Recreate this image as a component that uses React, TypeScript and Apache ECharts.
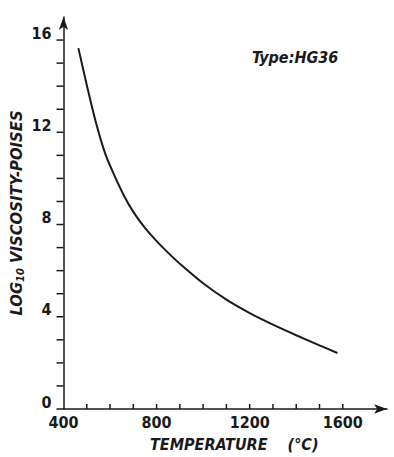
import React, { useEffect, useRef } from "react";
import * as echarts from "echarts";

const temperatures = [464, 500, 540, 580, 620, 660, 700, 750, 800, 850, 900, 1000, 1100, 1200, 1300, 1400, 1500, 1577];
const logViscosity = [15.65, 14.05, 12.4, 11.05, 10.1, 9.25, 8.55, 7.85, 7.28, 6.77, 6.3, 5.45, 4.74, 4.16, 3.66, 3.2, 2.76, 2.43];
const xTickValues = [500, 600, 700, 800, 900, 1000, 1100, 1200, 1300, 1400, 1500, 1600];
const xLabelValues = [400, 800, 1200, 1600];
const yTickValues = [0, 1, 2, 3, 4, 5, 6, 7, 8, 9, 10, 11, 12, 13, 14, 15, 16];
const yLabelValues = [0, 4, 8, 12, 16];

const FONT = "'DejaVu Sans Condensed', 'Liberation Sans Narrow', 'DejaVu Sans', sans-serif";
const INK = "#1a1a1a";
const X_MIN = 400;
const Y_MIN = 0;

export default function App() {
  const ref = useRef<HTMLDivElement>(null);
  useEffect(() => {
    if (!ref.current) return;
    const chart = echarts.init(ref.current, null, { renderer: "svg" });
    const tickData = [
      ...yTickValues.map((v) => [X_MIN, v, 0]),
      ...xTickValues.map((v) => [v, Y_MIN, 1]),
    ];
    chart.setOption({
      animation: false,
      backgroundColor: "#ffffff",
      title: {
        text: "Type:HG36",
        left: 247,
        top: 44,
        textStyle: { fontFamily: FONT, fontStyle: "italic", fontWeight: "bold", fontSize: 16, color: INK },
      },
      grid: { left: 60, right: 7, top: 17, bottom: 43, containLabel: false },
      xAxis: {
        type: "value",
        min: X_MIN,
        max: 1790,
        splitLine: { show: false },
        axisLine: { show: true, lineStyle: { color: INK, width: 1.5 }, symbol: ["none", "arrow"], symbolSize: [7, 13] },
        axisTick: { show: false },
        axisLabel: {
          show: true,
          customValues: xLabelValues,
          margin: 5,
          color: INK,
          fontFamily: FONT,
          fontWeight: "bold",
          fontSize: 16,
          formatter: (v: number) => String(v),
        },
        name: "TEMPERATURE    (°C)",
        nameLocation: "middle",
        nameGap: 27,
        nameMoveOverlap: false,
        nameTextStyle: { fontFamily: FONT, fontStyle: "italic", fontWeight: "bold", fontSize: 16, color: INK, padding: [0, 0, 0, 18] },
      },
      yAxis: {
        type: "value",
        min: Y_MIN,
        max: 17,
        splitLine: { show: false },
        axisLine: { show: true, lineStyle: { color: INK, width: 1.5 }, symbol: ["none", "arrow"], symbolSize: [7, 13] },
        axisTick: { show: false },
        axisLabel: {
          show: true,
          customValues: yLabelValues,
          margin: 12,
          verticalAlign: "bottom",
          lineHeight: 14,
          color: INK,
          fontFamily: FONT,
          fontWeight: "bold",
          fontSize: 16,
          formatter: (v: number) => String(v),
        },
        name: "LOG{sub|10} VISCOSITY-POISES",
        nameLocation: "middle",
        nameGap: 38,
        nameRotate: 90,
        nameMoveOverlap: false,
        nameTextStyle: {
          fontFamily: FONT,
          fontStyle: "italic",
          fontWeight: "bold",
          fontSize: 16.5,
          color: INK,
          rich: {
            sub: { fontFamily: FONT, fontStyle: "italic", fontWeight: "bold", fontSize: 11, color: INK, verticalAlign: "bottom", padding: [7, 0, 0, 0] },
          },
        },
      },
      series: [
        {
          type: "line",
          data: temperatures.map((t, i) => [t, logViscosity[i]]),
          smooth: 0.3,
          showSymbol: false,
          lineStyle: { color: INK, width: 2 },
        },
        {
          type: "custom",
          name: "ticks",
          data: tickData,
          clip: false,
          silent: true,
          z: 10,
          renderItem: (params: any, api: any) => {
            const p = api.coord([api.value(0), api.value(1)]);
            const isX = api.value(2) === 1;
            return {
              type: "line",
              shape: isX
                ? { x1: p[0], y1: p[1], x2: p[0], y2: p[1] - 5 }
                : { x1: p[0], y1: p[1], x2: p[0] - 7, y2: p[1] },
              style: { stroke: INK, lineWidth: 1.5 },
            };
          },
        },
      ],
    });
    return () => chart.dispose();
  }, []);
  return <div ref={ref} style={{ width: 394, height: 457, position: "absolute", left: 0, top: 0 }} />;
}
